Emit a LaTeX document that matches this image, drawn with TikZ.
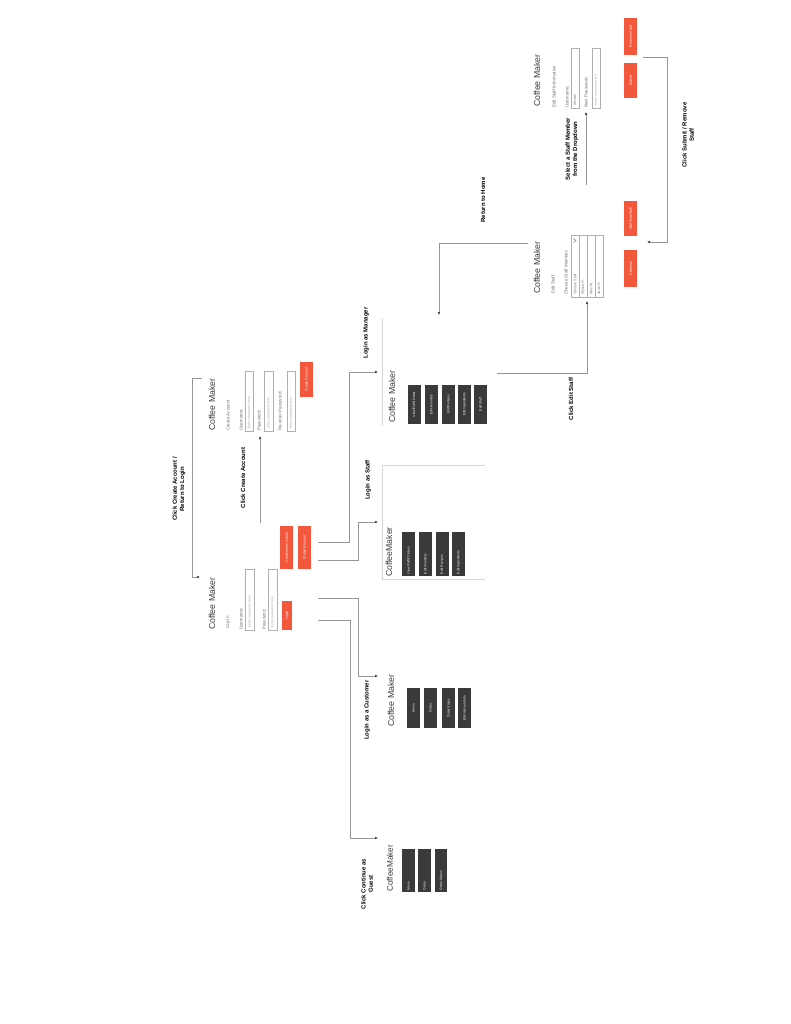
\documentclass[tikz,border=0pt]{standalone}
\usepackage{fontspec}
\setmainfont{Liberation Sans}
\usetikzlibrary{arrows.meta}
\definecolor{btnred}{RGB}{243,88,60}
\definecolor{btndark}{RGB}{58,58,58}
\definecolor{linegray}{RGB}{150,150,150}
\definecolor{boxgray}{RGB}{175,175,175}
\definecolor{phgray}{RGB}{170,170,170}
\definecolor{lblgray}{RGB}{115,115,115}
\definecolor{titlegray}{RGB}{60,60,60}
\definecolor{framegray}{RGB}{215,215,215}
\begin{document}
\begin{tikzpicture}[x=1pt,y=-1pt,
  rtext/.style={rotate=90,inner sep=0pt},
  title/.style={rtext,anchor=west,text=titlegray,font=\fontsize{8.7}{10}\selectfont},
  small/.style={rtext,anchor=west,text=lblgray,font=\fontsize{4.5}{5}\selectfont},
  ph/.style={rtext,anchor=west,text=phgray,font=\fontsize{3.4}{4}\selectfont},
  conn/.style={rtext,align=center,text=black,font=\bfseries\fontsize{6}{7.2}\selectfont},
  inbox/.style={draw=boxgray,line width=0.5pt,fill=white},
  redbtn/.style={rotate=90,fill=btnred,inner sep=0pt,text=white,font=\fontsize{3.5}{4}\selectfont},
  darkbtn/.style={rotate=90,fill=btndark,inner sep=0pt,text=white,font=\fontsize{3.3}{4}\selectfont,minimum height=13pt},
  darkbtnl/.style={darkbtn,inner xsep=2pt,align=left},
  wire/.style={draw=linegray,line width=0.5pt},
  arr/.style={wire,arrows={-{Latex[length=3pt,width=2.6pt,fill=black!75,color=black!75]}}},
  frame/.style={draw=framegray,line width=0.5pt}
]
\useasboundingbox (0,0) rectangle (791,1024);
\fill[white] (0,0) rectangle (791,1024);

% ---------------- Login screen ----------------
\node[title] (lgT) at (212,630) {Coffee Maker};
\node[small] (lgL) at (228,629) {Log In};
\node[small] (lgU) at (241,630) {Username:};
\node[inbox,rotate=90,minimum width=61pt,minimum height=9pt,inner sep=0pt] (lgUB) at (249.5,599.5) {};
\node[ph] (lgUP) at (249.5,628) {Enter username here};
\node[small] (lgP) at (264,630) {Password:};
\node[inbox,rotate=90,minimum width=61pt,minimum height=9pt,inner sep=0pt] (lgPB) at (272.5,599.5) {};
\node[ph] (lgPP) at (272.5,628) {Enter password here};
\node[redbtn,minimum width=29pt,minimum height=10pt] (lgBtn) at (287,615.5) {Login};
\node[redbtn,minimum width=43pt,minimum height=13pt] (cgBtn) at (286.5,547.5) {Continue as Guest};
\node[redbtn,minimum width=43pt,minimum height=13pt] (caBtn) at (304.5,547.5) {Create Account};

% ---------------- Create Account screen ----------------
\node[title] (caT) at (212,431) {Coffee Maker};
\node[small] (caL) at (228,431) {Create Account};
\node[small] (caU) at (241,431) {Username:};
\node[inbox,rotate=90,minimum width=60pt,minimum height=8pt,inner sep=0pt] (caUB) at (249,401) {};
\node[ph] (caUP) at (249,429) {Enter username here};
\node[small] (caP) at (259,431) {Password:};
\node[inbox,rotate=90,minimum width=60pt,minimum height=9pt,inner sep=0pt] (caPB) at (268.5,401) {};
\node[ph] (caPP) at (268.5,429) {Enter password here};
\node[small] (caR) at (280,431) {Re-enter Password:};
\node[inbox,rotate=90,minimum width=60pt,minimum height=8pt,inner sep=0pt] (caRB) at (291,401) {};
\node[ph] (caRP) at (291,429) {Enter password here};
\node[redbtn,minimum width=35pt,minimum height=13pt] (caSubmit) at (306.5,379.5) {Create Account};

% ---------------- Customer screen ----------------
\node[title] (cuT) at (391,727) {Coffee Maker};
\node[darkbtn,minimum width=40pt] (cu1) at (413.5,708) {Menu};
\node[darkbtn,minimum width=40pt] (cu2) at (430.5,708) {Order};
\node[darkbtn,minimum width=40pt] (cu3) at (448.5,708) {Order Status};
\node[darkbtn,minimum width=40pt] (cu4) at (464.5,708) {Edit Account Info};

% ---------------- Guest screen ----------------
\node[title,font=\fontsize{8.2}{10}\selectfont] (guT) at (390,892) {CoffeeMaker};
\node[darkbtnl,text width=39pt] (gu1) at (408.5,870.5) {Menu};
\node[darkbtnl,text width=39pt] (gu2) at (424.5,870.5) {Order};
\node[darkbtnl,text width=39pt,minimum height=12pt] (gu3) at (441,870.5) {Order Status};

% ---------------- Staff screen ----------------
\draw[frame] (485,465) -- (382,465) -- (382,579) -- (485,579);
\node[title] (stT) at (389,577) {CoffeeMaker};
\node[darkbtnl,text width=40pt] (st1) at (408.5,554) {View/Fulfill Orders};
\node[darkbtnl,text width=40pt] (st2) at (425.5,554) {Edit Inventory};
\node[darkbtnl,text width=40pt] (st3) at (442,554) {Edit Recipes};
\node[darkbtnl,text width=40pt] (st4) at (458.5,554) {Edit Ingredients};

% ---------------- Manager screen ----------------
\draw[frame] (382,318) -- (382,426);
\node[title] (maT) at (392,423) {Coffee Maker};
\node[darkbtn,minimum width=39pt] (ma1) at (414,404.5) {View/Fulfill Order};
\node[darkbtn,minimum width=39pt] (ma2) at (431.5,404.5) {Edit Inventory};
\node[darkbtn,minimum width=39pt] (ma3) at (448.5,404.5) {Edit Recipes};
\node[darkbtn,minimum width=39pt] (ma4) at (464.5,404.5) {Edit Ingredients};
\node[darkbtn,minimum width=39pt] (ma5) at (480.5,404.5) {Edit Staff};

% ---------------- Edit Staff screen ----------------
\node[title] (esT) at (537,294) {Coffee Maker};
\node[small] (esL) at (553,294) {Edit Staff};
\node[small] (esC) at (566,295) {Choose Staff Member:};
\node[inbox,rotate=90,minimum width=62pt,minimum height=32pt,inner sep=0pt] (esTab) at (587,266) {};
\draw[draw=boxgray,line width=0.5pt] (579,235) -- (579,297) (587,235) -- (587,297) (595,235) -- (595,297);
\node[small,font=\fontsize{3.6}{4}\selectfont] (esR1) at (575,295) {Choose Staff};
\node[small,font=\fontsize{3.6}{4}\selectfont] (esR2) at (583,295) {Alyssa H.};
\node[small,font=\fontsize{3.6}{4}\selectfont] (esR3) at (591,295) {Alex M.};
\node[small,font=\fontsize{3.6}{4}\selectfont] (esR4) at (599,295) {Jane S.};
\draw[lblgray,line width=0.5pt] (573.5,238.5) -- (576,240.5) -- (573.5,242.5);
\node[redbtn,minimum width=35pt,minimum height=13pt] (esAdd) at (630.5,218.5) {Add New Staff};
\node[redbtn,minimum width=37pt,minimum height=13pt] (esCont) at (630.5,268.5) {Continue};

% ---------------- Edit Staff Information screen ----------------
\node[title] (eiT) at (537,107) {Coffee Maker};
\node[small] (eiL) at (554,108) {Edit Staff Information};
\node[small] (eiU) at (567,108) {Username:};
\node[inbox,rotate=90,minimum width=60pt,minimum height=8pt,inner sep=0pt] (eiUB) at (575,78) {};
\node[ph,text=lblgray] (eiUP) at (575,106) {alyssah};
\node[small] (eiP) at (586,108) {New Password:};
\node[inbox,rotate=90,minimum width=60pt,minimum height=8pt,inner sep=0pt] (eiPB) at (596,78) {};
\node[ph] (eiPP) at (596,106) {Enter new password};
\node[redbtn,minimum width=35pt,minimum height=13pt] (eiSub) at (630.5,80.5) {Submit};
\node[redbtn,minimum width=37pt,minimum height=13pt] (eiRem) at (630.5,36.5) {Remove Staff};

% ---------------- connector end points ----------------
\coordinate (retA) at (202,378);
\coordinate (retB) at (200,577);
\coordinate (ccaA) at (260,523);
\coordinate (ccaB) at (260,436);
\coordinate (cusA) at (318,598);
\coordinate (cusB) at (378,676);
\coordinate (gueA) at (318,620);
\coordinate (gueB) at (378,838);
\coordinate (staA) at (318,560);
\coordinate (staB) at (378,522);
\coordinate (manA) at (318,542);
\coordinate (manB) at (378,372);
\coordinate (edsA) at (497,373);
\coordinate (edsB) at (587,301);
\coordinate (rthA) at (528,243);
\coordinate (rthB) at (439,315);
\coordinate (selA) at (586,185);
\coordinate (selB) at (586,112);
\coordinate (subA) at (643,57);
\coordinate (subB) at (647,242);

% ---------------- connectors ----------------
\draw[arr] (retA) -- (192,378) -- (192,577) -- (retB);
\draw[arr] (ccaA) -- (ccaB);
\draw[arr] (cusA) -- (358,598) -- (358,676) -- (cusB);
\draw[arr] (gueA) -- (350,620) -- (350,838) -- (gueB);
\draw[arr] (staA) -- (358,560) -- (358,522) -- (staB);
\draw[arr] (manA) -- (349,542) -- (349,372) -- (manB);
\draw[arr] (edsA) -- (587,373) -- (edsB);
\draw[arr] (rthA) -- (439,243) -- (rthB);
\draw[arr] (selA) -- (selB);
\draw[arr] (subA) -- (667,57) -- (667,242) -- (subB);

% ---------------- connector labels ----------------
\node[conn] (lRet) at (179,489) {Click Create Account /\\Return to Login};
\node[conn] (lCca) at (243,478) {Click Create Account};
\node[conn] (lCus) at (367,710) {Login as a Customer};
\node[conn] (lGue) at (367,884) {Click Continue as\\Guest};
\node[conn] (lSta) at (368,480) {Login as Staff};
\node[conn] (lMan) at (366,333) {Login as Manager};
\node[conn] (lEds) at (571,399) {Click Edit Staff};
\node[conn] (lRth) at (483,200) {Return to Home};
\node[conn] (lSel) at (572,149) {Select a Staff Member\\from the Dropdown};
\node[conn] (lSub) at (688,135) {Click Submit / Remove\\Staff};
\end{tikzpicture}
\end{document}
